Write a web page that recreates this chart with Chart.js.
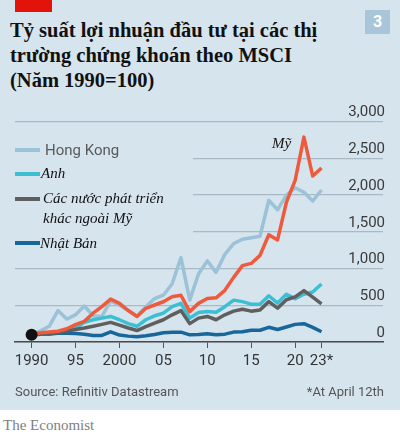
<!DOCTYPE html>
<html>
<head>
<meta charset="utf-8">
<script src="https://cdn.jsdelivr.net/npm/chart.js@4.4.1/dist/chart.umd.min.js"></script>
<style>
    html, body { margin: 0; padding: 0; }
    body { width: 400px; height: 435px; position: relative; background: #fff; overflow: hidden; }
    #panel { position: absolute; left: 0; top: 0; width: 400px; height: 410px; background: #d6e4ee; }
    #redbar { position: absolute; left: 15px; top: 0; width: 37px; height: 12px; background: #e3120b; }
    #badge { position: absolute; left: 365px; top: 10px; width: 25px; height: 24px; background: #a9c5d9;
        color: #fff; font: bold 16px/24px Roboto, sans-serif; text-align: center; }
    #title { position: absolute; left: 10px; top: 18px; font: bold 20.5px/24.8px "Liberation Serif", serif; color: #111; white-space: nowrap; }
    #wrap { position: absolute; left: 0; top: 100px; width: 400px; height: 285px; }
    #mask { position: absolute; left: 0; top: 130px; width: 193px; height: 120px; background: #d6e4ee; }
    .sw { position: absolute; left: 15px; width: 25px; height: 3.5px; }
    .lbl { position: absolute; white-space: nowrap; }
    .serif { font: italic 15px/20px "Liberation Serif", serif; color: #111; }
    .sans { font: 15px/18px Roboto, sans-serif; color: #5a5a5a; }
    #source { position: absolute; left: 15px; top: 383px; font: 13px/18px Roboto, sans-serif; color: #555; }
    #note { position: absolute; right: 16px; top: 383px; font: 13px/18px Roboto, sans-serif; color: #555; }
    #brand { position: absolute; left: 3px; top: 415px; font: 15px/20px "Liberation Serif", serif; color: #808080; }
</style>
</head>
<body>
<div id="panel"></div>
<div id="redbar"></div>
<div id="badge">3</div>
<div id="title">Tỷ suất lợi nhuận đầu tư tại các thị<br>trường chứng khoán theo MSCI<br>(Năm 1990=100)</div>
<div id="wrap"><canvas id="chart" width="400" height="285"></canvas></div>
<div id="mask"></div>
<div class="sw" style="top:148px;background:#9bc2d7"></div>
<div class="lbl sans" style="left:45px;top:141px">Hong Kong</div>
<div class="sw" style="top:172px;background:#3cbfd2"></div>
<div class="lbl serif" style="left:41px;top:163px">Anh</div>
<div class="sw" style="top:197px;background:#5f5f5f"></div>
<div class="lbl serif" style="left:43px;top:188px">Các nước phát triển<br>khác ngoài Mỹ</div>
<div class="sw" style="top:241px;background:#17679a"></div>
<div class="lbl serif" style="left:40px;top:233px">Nhật Bản</div>
<div class="lbl serif" style="left:272px;top:133px">Mỹ</div>
<div id="source">Source: Refinitiv Datastream</div>
<div id="note">*At April 12th</div>
<div id="brand">The Economist</div>
<script>
    var years = [];
    for (var yr = 1990; yr <= 2023; yr++) years.push(yr);

    var usValues = [100, 125, 135, 147, 180, 236, 281, 392, 481, 584,
        526, 428, 348, 459, 504, 548, 615, 637, 414, 526,
        592, 601, 704, 880, 1040, 1070, 1180, 1460, 1390, 1900,
        2200, 2790, 2260, 2370];
    var hkValues = [100, 150, 214, 428, 312, 370, 490, 357, 348, 560,
        500, 430, 350, 480, 592, 637, 793, 1150, 570, 927,
        1105, 949, 1194, 1340, 1400, 1420, 1440, 1930, 1800, 2000,
        2100, 2040, 1920, 2070];
    var ukValues = [100, 110, 120, 140, 160, 191, 267, 303, 325, 348,
        303, 250, 214, 303, 357, 392, 481, 526, 325, 401,
        414, 405, 481, 570, 550, 515, 515, 630, 530, 650,
        590, 650, 680, 790];
    var otherValues = [100, 105, 110, 130, 150, 170, 190, 214, 240, 267,
        230, 191, 156, 210, 258, 303, 370, 428, 250, 325,
        348, 303, 370, 420, 445, 420, 437, 550, 460, 575,
        615, 700, 610, 520];
    var japanValues = [100, 105, 110, 120, 120, 116, 105, 90, 90, 138,
        94, 80, 71, 85, 103, 125, 134, 134, 98, 103,
        112, 98, 107, 135, 140, 160, 160, 200, 170, 205,
        240, 250, 200, 140];

    var xTickYears = [1990, 1995, 2000, 2005, 2010, 2015, 2020, 2023];
    var xTickLabels = ['1990', '95', '2000', '05', '10', '15', '20', '23*'];
    var yTickValues = [0, 500, 1000, 1500, 2000, 2500, 3000];
    var yTickLabels = ['0', '500', '1,000', '1,500', '2,000', '2,500', '3,000'];

    function toPoints(values) {
        return values.map(function (v, i) { return { x: years[i], y: v }; });
    }

    function line(values, color, extra) {
        var ds = {
            data: toPoints(values),
            borderColor: color,
            backgroundColor: color,
            borderWidth: 3.5,
            borderJoinStyle: 'round',
            pointRadius: 0,
            tension: 0,
            fill: false
        };
        for (var k in extra) ds[k] = extra[k];
        return ds;
    }

    new Chart(document.getElementById('chart'), {
        type: 'line',
        data: {
            datasets: [
                line(usValues, '#ef5a3c', {
                    pointRadius: function (c) { return c.dataIndex === 0 ? 6 : 0; },
                    pointBackgroundColor: '#111',
                    pointBorderWidth: 0
                }),
                line(otherValues, '#5f5f5f'),
                line(ukValues, '#3cbfd2'),
                line(japanValues, '#17679a'),
                line(hkValues, '#9bc2d7')
            ]
        },
        options: {
            responsive: false,
            animation: false,
            layout: { padding: { left: 15, right: 13, top: 21.7, bottom: 11 } },
            plugins: { legend: { display: false }, tooltip: { enabled: false } },
            scales: {
                x: {
                    type: 'linear',
                    min: 1988.11,
                    max: 2030,
                    afterBuildTicks: function (s) {
                        s.ticks = xTickYears.map(function (v) { return { value: v }; });
                    },
                    ticks: {
                        autoSkip: false,
                        maxRotation: 0,
                        padding: 4,
                        color: '#333',
                        font: { family: 'Roboto', size: 15 },
                        callback: function (v, i) { return xTickLabels[i]; }
                    },
                    grid: { drawOnChartArea: false, drawTicks: true, tickLength: 6, color: '#555', lineWidth: 1 },
                    border: { display: true, color: '#4a4a4a', width: 1.5 }
                },
                y: {
                    position: 'right',
                    min: 0,
                    max: 3000,
                    afterBuildTicks: function (s) {
                        s.ticks = yTickValues.map(function (v) { return { value: v }; });
                    },
                    ticks: {
                        mirror: true,
                        padding: 2,
                        labelOffset: -9,
                        color: '#3a3a3a',
                        font: { family: 'Roboto', size: 15 },
                        callback: function (v, i) { return yTickLabels[i]; }
                    },
                    grid: { drawTicks: false, color: '#aab9c5', lineWidth: 1.3 },
                    border: { display: false }
                }
            }
        }
    });
</script>
</body>
</html>
